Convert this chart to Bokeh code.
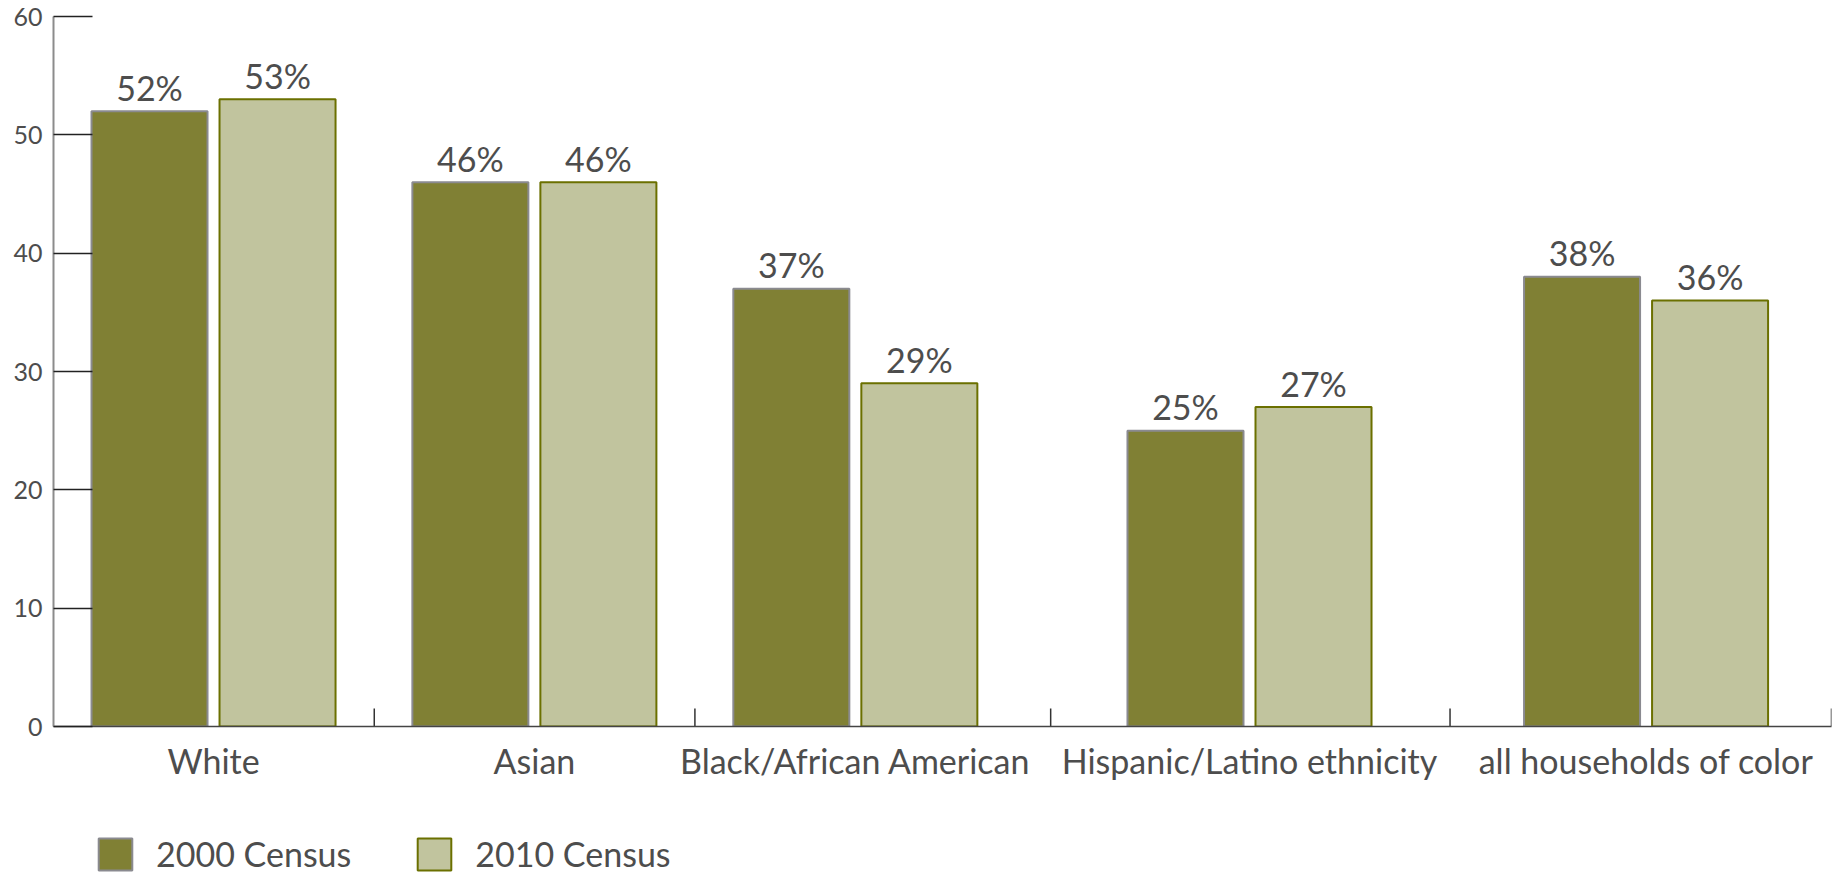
import math
from bokeh.plotting import figure
from bokeh.layouts import column
from bokeh.models import (Range1d, LinearAxis, FixedTicker, Legend, LegendItem,
                          ColumnDataSource)
from bokeh.core.properties import value
from bokeh.embed import file_html
from bokeh.resources import INLINE

# ---- data ----
categories = ["White", "Asian", "Black/African American",
              "Hispanic/Latino ethnicity", "all households of color"]
census_2000 = [52, 46, 37, 25, 38]
census_2010 = [53, 46, 29, 27, 36]
series_names = ["2000 Census", "2010 Census"]
y_ticks = [0, 10, 20, 30, 40, 50, 60]

# ---- layout (pixel-like x units) ----
group_centers = [160, 480.8, 801.7, 1195.8, 1592.3]
separators = [320.7, 641.3, 997, 1396.3, 1777.7]
bar_w = 116
offset = 64

FONT = "Lato"
TXT = "#4d4d4d"
C2000 = "#808034"
C2010 = "#c1c49e"
EDGE2000 = "#8a8a90"
EDGE2010 = "#6b7000"

W = 1833
p = figure(width=W, height=790, output_backend="svg", toolbar_location=None,
           x_range=Range1d(0, 1777.7), y_range=Range1d(0, 60),
           x_axis_type=None, y_axis_type=None,
           min_border_left=53, min_border_right=2, min_border_top=16,
           min_border_bottom=64)
p.outline_line_color = None
p.xgrid.visible = False
p.ygrid.visible = False

src = ColumnDataSource(dict(
    x0=[c - offset for c in group_centers],
    x1=[c + offset for c in group_centers],
    v0=census_2000, v1=census_2010,
    l0=[f"{v}%" for v in census_2000],
    l1=[f"{v}%" for v in census_2010],
))

p.vbar(x="x0", top="v0", width=bar_w, bottom=0, source=src,
       fill_color=C2000, line_color=EDGE2000, line_width=2)
p.vbar(x="x1", top="v1", width=bar_w, bottom=0, source=src,
       fill_color=C2010, line_color=EDGE2010, line_width=2)

for xs, ls, vs in (("x0", "l0", "v0"), ("x1", "l1", "v1")):
    p.text(x=xs, y=vs, text=ls, source=src, text_align="center",
           text_baseline="alphabetic", y_offset=-24,
           text_font=value(FONT), text_font_size="34px", text_color=TXT)

# separator ticks between categories (pointing up from the axis)
p.ray(x=separators, y=[0] * len(separators), length=18, length_units="screen",
      angle=math.pi / 2, line_color="#333333", line_width=1.5)

# y axis
yax = LinearAxis(ticker=FixedTicker(ticks=y_ticks))
yax.axis_line_color = "#8c8c8c"
yax.axis_line_width = 2
yax.major_tick_in = 39
yax.major_tick_out = 0
yax.major_tick_line_color = "#222222"
yax.major_tick_line_width = 1.5
yax.minor_tick_line_color = None
yax.major_label_text_font = FONT
yax.major_label_text_font_size = "25px"
yax.major_label_text_color = TXT
yax.major_label_standoff = 11
p.add_layout(yax, "left")

# x axis with category labels
xlab = LinearAxis(ticker=FixedTicker(ticks=group_centers))
xlab.axis_line_color = "#444444"
xlab.axis_line_width = 1.5
xlab.major_tick_line_color = None
xlab.minor_tick_line_color = None
xlab.major_tick_in = 0
xlab.major_tick_out = 0
xlab.major_label_overrides = {float(c): n for c, n in zip(group_centers, categories)}
xlab.major_label_text_font = FONT
xlab.major_label_text_font_size = "34px"
xlab.major_label_text_color = TXT
xlab.major_label_standoff = 13
p.add_layout(xlab, "below")

# legend strip below the chart (zero-size swatch renderers, hidden by the legend box)
lf = figure(width=W, height=84, output_backend="svg", toolbar_location=None,
            x_range=Range1d(0, 1), y_range=Range1d(0, 1),
            x_axis_type=None, y_axis_type=None,
            min_border_left=0, min_border_right=0, min_border_top=0,
            min_border_bottom=0)
lf.outline_line_color = None
lf.xgrid.visible = False
lf.ygrid.visible = False
swatch = ColumnDataSource(dict(x=[0.2], bottom=[0.2], top=[0.2]))
g0 = lf.vbar(x="x", top="top", bottom="bottom", width=0, source=swatch,
             fill_color=C2000, line_color=EDGE2000, line_width=2)
g1 = lf.vbar(x="x", top="top", bottom="bottom", width=0, source=swatch,
             fill_color=C2010, line_color=EDGE2010, line_width=2)

legend = Legend(items=[LegendItem(label=series_names[0], renderers=[g0]),
                       LegendItem(label=series_names[1], renderers=[g1])],
                orientation="horizontal", location=(41, 0))
legend.glyph_width = 42
legend.glyph_height = 40
legend.label_standoff = 20
legend.spacing = 62
legend.padding = 0
legend.margin = 0
legend.border_line_color = None
legend.background_fill_color = "white"
legend.background_fill_alpha = 1
legend.label_text_font = FONT
legend.label_text_font_size = "34px"
legend.label_text_color = TXT
legend.label_height = 40
lf.add_layout(legend, "center")

layout = column(p, lf, spacing=0)
open("out.html", "w").write(file_html(layout, INLINE))
